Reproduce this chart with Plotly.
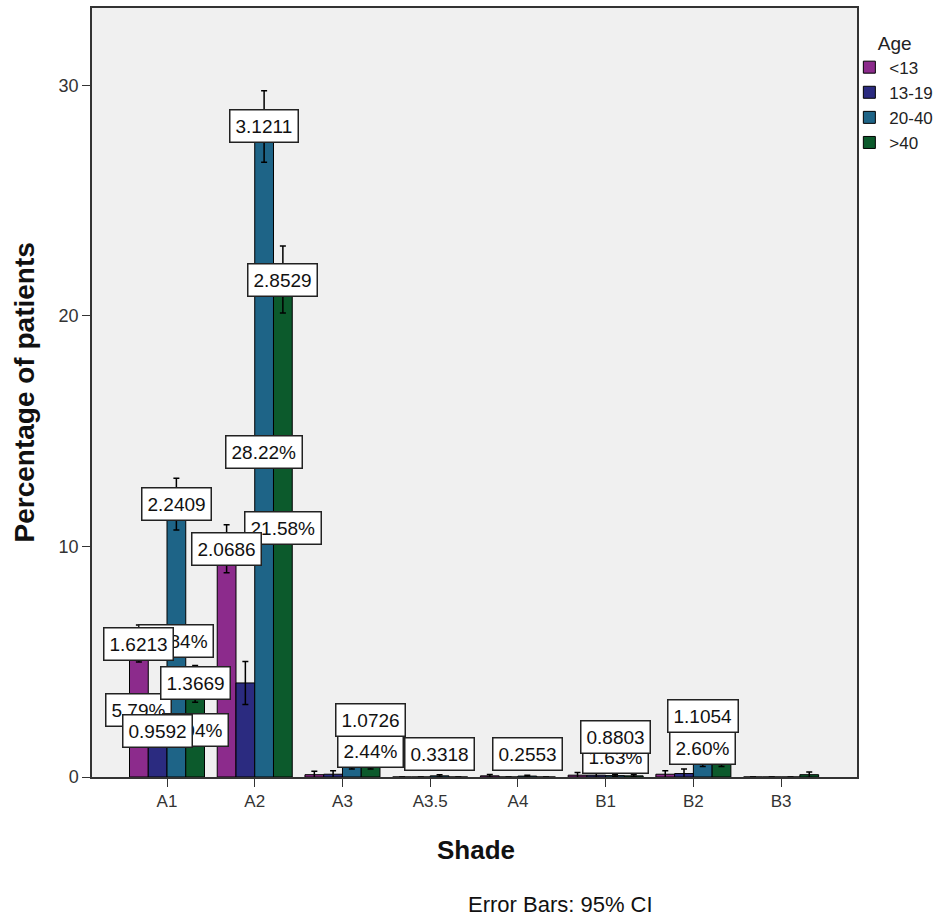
import plotly.graph_objects as go

# ---- data ----
categories = ["A1", "A2", "A3", "A3.5", "A4", "B1", "B2", "B3"]
series_names = ["<13", "13-19", "20-40", ">40"]

v_lt13 = [5.79, 9.90, 0.10, 0.00, 0.05, 0.08, 0.12, 0.00]
v_13_19 = [2.00, 4.08, 0.12, 0.00, 0.00, 0.08, 0.15, 0.00]
v_20_40 = [11.84, 28.22, 0.45, 0.05, 0.04, 0.06, 0.56, 0.00]
v_gt40 = [4.04, 21.58, 0.45, 0.00, 0.00, 0.05, 0.56, 0.10]

ci_lt13 = [0.80, 1.04, 0.15, 0.00, 0.06, 0.12, 0.15, 0.00]
ci_13_19 = [0.60, 0.93, 0.15, 0.00, 0.00, 0.10, 0.20, 0.00]
ci_20_40 = [1.12, 1.55, 0.10, 0.05, 0.04, 0.05, 0.10, 0.00]
ci_gt40 = [0.80, 1.45, 0.10, 0.00, 0.00, 0.05, 0.10, 0.12]

# value labels (drawn in this order; later ones on top)
label_cat = ["A1", "A1", "A1", "A1", "A1", "A1", "A1",
             "A2", "A2", "A2", "A2", "A2",
             "A3", "A3", "A3.5", "A4", "B1", "B1", "B2", "B2"]
label_series = [2, 0, 0, 3, 1, 3, 2,
                2, 3, 0, 2, 3,
                3, 3, 2, 2, 2, 2, 2, 2]
label_text = ["11.84%", "1.6213", "5.79%", "4.04%", "0.9592", "1.3669", "2.2409",
              "28.22%", "21.58%", "2.0686", "3.1211", "2.8529",
              "2.44%", "1.0726", "0.3318", "0.2553", "1.63%", "0.8803", "2.60%", "1.1054"]
label_y = [5.92, 5.79, 2.895, 2.02, 2.0, 4.08, 11.84,
           14.11, 10.79, 9.9, 28.22, 21.58,
           1.13, 2.46, 0.98, 0.98, 0.85, 1.73, 1.26, 2.65]

colors = ["#8C2B8C", "#2B2B80", "#1E6487", "#0C5A2C"]
values = [v_lt13, v_13_19, v_20_40, v_gt40]
cis = [ci_lt13, ci_13_19, ci_20_40, ci_gt40]

FONT = "Liberation Sans, Arial, sans-serif"
bargap = 0.145

fig = go.Figure()
for name, vals, ci, col in zip(series_names, values, cis, colors):
    fig.add_trace(go.Bar(
        name=name, x=categories, y=vals,
        marker=dict(color=col, line=dict(color="black", width=1)),
        error_y=dict(type="data", array=ci, visible=True, color="black",
                     thickness=1.5, width=3),
    ))

bw = (1 - bargap) / 4
offsets = [(-1.5 + i) * bw for i in range(4)]

annotations = []
for c, s, t, y in zip(label_cat, label_series, label_text, label_y):
    annotations.append(dict(
        x=categories.index(c) + offsets[s], y=y, xref="x", yref="y",
        text=t, showarrow=False, font=dict(family=FONT, size=19, color="#111"),
        bgcolor="white", bordercolor="#222", borderwidth=1.5, borderpad=5,
        xanchor="center", yanchor="middle",
    ))

annotations += [
    dict(text="<b>Shade</b>", x=0.502, y=-0.095, xref="paper", yref="paper",
         showarrow=False, font=dict(family=FONT, size=26, color="#111"),
         xanchor="center", yanchor="middle"),
    dict(text="Error Bars: 95% CI", x=0.612, y=-0.166, xref="paper", yref="paper",
         showarrow=False, font=dict(family=FONT, size=22, color="#111"),
         xanchor="center", yanchor="middle"),
    dict(text="<b>Percentage of patients</b>", x=-0.0876, y=0.5, xref="paper",
         yref="paper", showarrow=False, textangle=-90,
         font=dict(family=FONT, size=28, color="#111"),
         xanchor="center", yanchor="middle"),
]

fig.update_layout(
    width=943, height=922,
    margin=dict(l=92, r=86, t=8, b=145, autoexpand=False),
    paper_bgcolor="white", plot_bgcolor="#F0F0F0",
    barmode="group", bargap=bargap, bargroupgap=0,
    font=dict(family=FONT, size=17, color="#222"),
    annotations=annotations,
    legend=dict(x=0.99, y=0.978, xanchor="left", yanchor="top",
                title=dict(text="&nbsp;&nbsp;&nbsp;&nbsp;&nbsp;Age", side="top",
                           font=dict(size=19)),
                font=dict(family=FONT, size=17, color="#222"),
                bgcolor="rgba(0,0,0,0)", tracegroupgap=0, itemwidth=30),
    xaxis=dict(type="category", range=[-0.855, 7.865], showline=True,
               linecolor="#333", linewidth=1.5, mirror=True, ticks="outside",
               ticklen=8, tickcolor="#333", showgrid=False,
               tickfont=dict(size=17, color="#333")),
    yaxis=dict(range=[0, 33.36], tickvals=[0, 10, 20, 30], showline=True,
               linecolor="#333", linewidth=1.5, mirror=True, ticks="outside",
               ticklen=8, tickcolor="#333", showgrid=False, zeroline=False,
               tickfont=dict(size=18, color="#333")),
)

fig.write_html("out.html")
